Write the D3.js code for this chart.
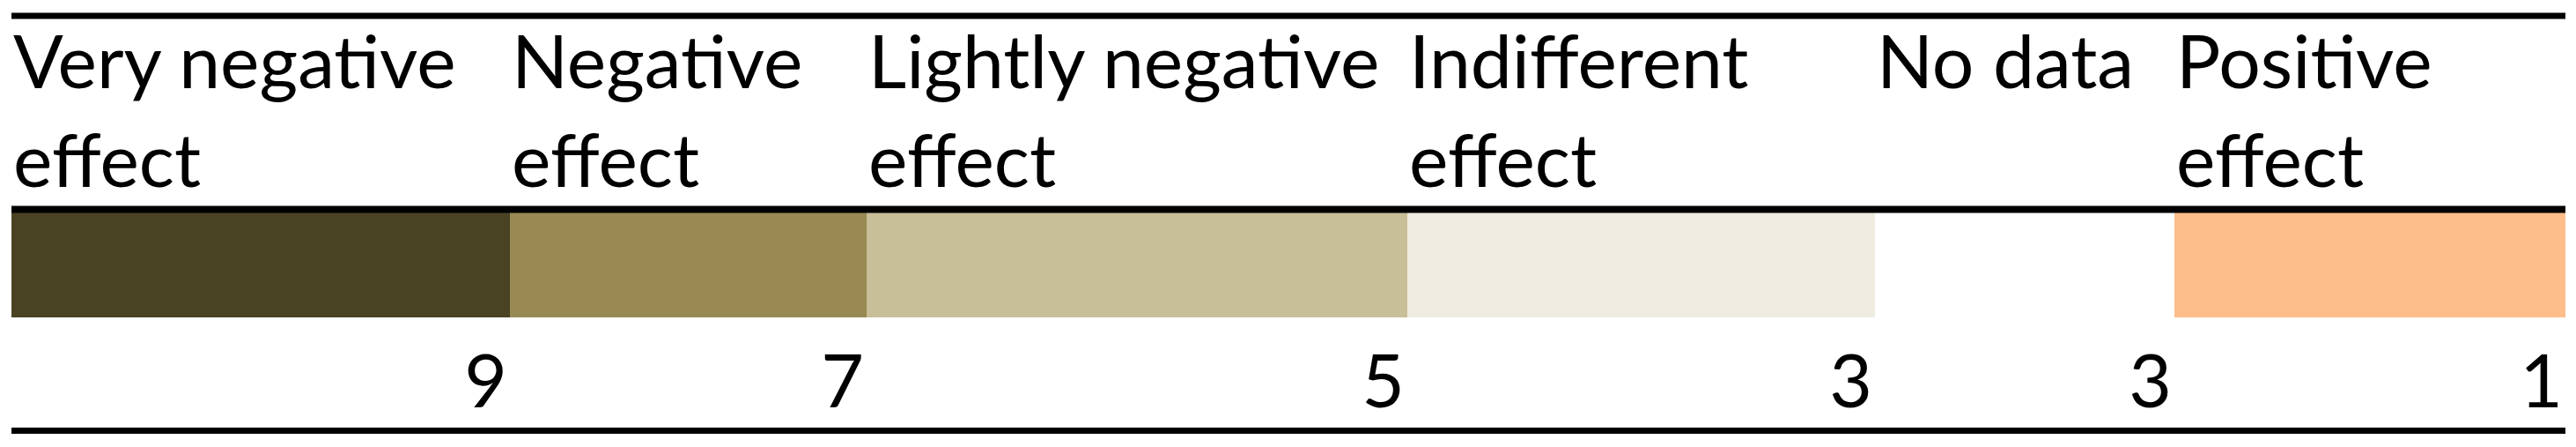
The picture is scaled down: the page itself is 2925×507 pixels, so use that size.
<!DOCTYPE html>
<html>
<head>
<meta charset="utf-8">
<script src="https://cdn.jsdelivr.net/npm/d3@7"></script>
<style>
  html, body { margin: 0; padding: 0; background: #ffffff; }
  svg { display: block; }
</style>
</head>
<body>
<div id="chart"></div>
<script>
// ---- data ----
const categories = ["Very negative effect", "Negative effect", "Lightly negative effect", "Indifferent effect", "No data", "Positive effect"];
const labelLines = [["Very negative", "effect"], ["Negative", "effect"], ["Lightly negative", "effect"], ["Indifferent", "effect"], ["No data"], ["Positive", "effect"]];
const counts = [9, 7, 5, 3, 3, 1];
const colors = ["#494323", "#988a52", "#c8be98", "#eeece0", "#ffffff", "#fdbe8b"];

// ---- layout ----
const W = 2925, H = 507;
const left = 13;
const colWidths = [566, 405, 614, 531, 340, 444];
const lefts = [];
colWidths.reduce((acc, w) => { lefts.push(acc); return acc + w; }, left);
const right = left + d3.sum(colWidths);

const x = d3.scaleOrdinal().domain(categories).range(lefts);
const wScale = d3.scaleOrdinal().domain(categories).range(colWidths);
const color = d3.scaleOrdinal().domain(categories).range(colors);

const fontFamily = "Lato, 'Open Sans', sans-serif";
const fontSize = 84;

const svg = d3.select("#chart").append("svg")
  .attr("width", W).attr("height", H)
  .attr("viewBox", `0 0 ${W} ${H}`);

const rows = categories.map((c, i) => ({ cat: c, lines: labelLines[i], n: counts[i] }));

// colour cells
svg.append("g").selectAll("rect").data(rows).join("rect")
  .attr("x", d => x(d.cat))
  .attr("y", 241)
  .attr("width", d => wScale(d.cat))
  .attr("height", 119)
  .attr("fill", d => color(d.cat));

// labels
const lab = svg.append("g")
  .attr("font-family", fontFamily)
  .attr("font-size", fontSize)
  .attr("fill", "#000");
lab.selectAll("text").data(rows).join("text")
  .attr("x", d => x(d.cat) + 2)
  .attr("y", 100)
  .each(function(d) {
    d3.select(this).selectAll("tspan").data(d.lines).join("tspan")
      .attr("x", x(d.cat) + 2)
      .attr("dy", (t, i) => i === 0 ? 0 : 112)
      .text(t => t);
  });

// numbers
svg.append("g")
  .attr("font-family", fontFamily)
  .attr("font-size", fontSize)
  .attr("fill", "#000")
  .attr("text-anchor", "end")
  .selectAll("text").data(rows).join("text")
  .attr("x", d => x(d.cat) + wScale(d.cat) - 3)
  .attr("y", 462)
  .text(d => d.n);

// rules
const rules = [18, 237.5, 488.5];
svg.append("g").selectAll("line").data(rules).join("line")
  .attr("x1", left).attr("x2", right)
  .attr("y1", d => d).attr("y2", d => d)
  .attr("stroke", "#000")
  .attr("stroke-width", (d, i) => i === 1 ? 8 : 7);
</script>
</body>
</html>
